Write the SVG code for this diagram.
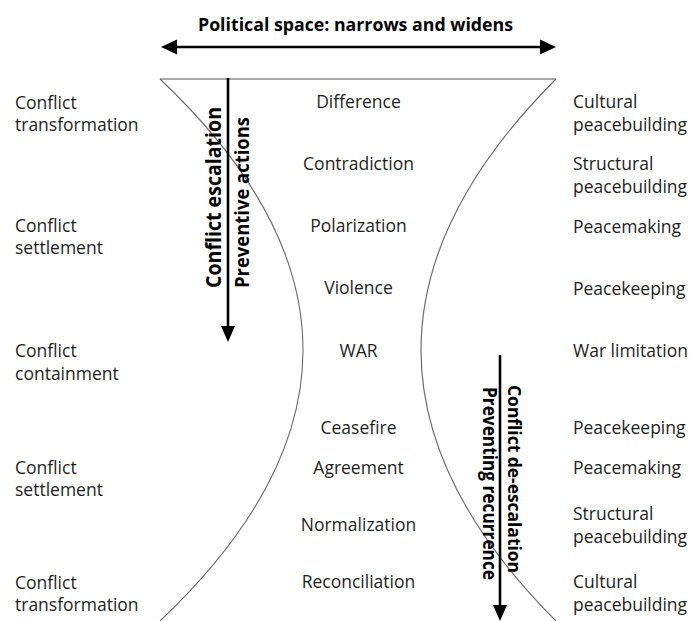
<svg xmlns="http://www.w3.org/2000/svg" width="692" height="621" viewBox="0 0 692 621">
<style>
  .lbl { font-family: "Open Sans", "Noto Sans", "Liberation Sans", sans-serif; font-size: 17.5px; fill: #1e1e1e; }
  .mid { text-anchor: middle; }
  .bold { font-family: "Open Sans", "Noto Sans", "Liberation Sans", sans-serif; font-weight: bold; fill: #000; }
  .curve { fill: none; stroke: #6a6a6a; stroke-width: 1.1; }
  .top { fill: none; stroke: #a8a8a8; stroke-width: 2; }
  .arrow { stroke: #000; stroke-width: 2.6; fill: none; }
  .head { fill: #000; }
</style>
<rect width="692" height="621" fill="#fff"/>

<g id="funnel">
  <line class="top" x1="160" y1="79" x2="556" y2="79"/>
  <path class="curve" d="M160,79 Q446,350 160,621"/>
  <path class="curve" d="M556,79 Q286,350 556,621"/>
</g>

<g id="connectors">
  <g id="political-space-arrow">
    <line class="arrow" x1="174" y1="47" x2="543" y2="47"/>
    <polygon class="head" points="161,47 177,39.5 177,54.5"/>
    <polygon class="head" points="556,47 540,39.5 540,54.5"/>
  </g>
  <g id="escalation-arrow">
    <line class="arrow" x1="228" y1="78" x2="228" y2="330"/>
    <polygon class="head" points="228,342 221,326 235,326"/>
  </g>
  <g id="deescalation-arrow">
    <line class="arrow" x1="500" y1="355" x2="500" y2="608"/>
    <polygon class="head" points="500,621 493,605 507,605"/>
  </g>
</g>

<g id="title">
  <text class="bold" x="355.5" y="31" font-size="17.5" text-anchor="middle" textLength="315" lengthAdjust="spacingAndGlyphs">Political space: narrows and widens</text>
</g>

<g id="escalation-labels">
  <text class="bold" transform="translate(221,197.5) rotate(-90)" font-size="21" text-anchor="middle" textLength="181" lengthAdjust="spacingAndGlyphs">Conflict escalation</text>
  <text class="bold" transform="translate(249,202.5) rotate(-90)" font-size="19" font-weight="600" text-anchor="middle" textLength="171" lengthAdjust="spacingAndGlyphs">Preventive actions</text>
</g>

<g id="deescalation-labels">
  <text class="bold" transform="translate(507.5,479) rotate(90)" font-size="18.5" text-anchor="middle" textLength="188" lengthAdjust="spacingAndGlyphs">Conflict de-escalation</text>
  <text class="bold" transform="translate(482.5,483.5) rotate(90)" font-size="19" font-weight="600" text-anchor="middle" textLength="193" lengthAdjust="spacingAndGlyphs">Preventing recurrence</text>
</g>

<g id="stages">
  <g id="difference"><text class="lbl mid" x="358.5" y="108">Difference</text></g>
  <g id="contradiction"><text class="lbl mid" x="358.5" y="170">Contradiction</text></g>
  <g id="polarization"><text class="lbl mid" x="358.5" y="232">Polarization</text></g>
  <g id="violence"><text class="lbl mid" x="358.5" y="293.5">Violence</text></g>
  <g id="war"><text class="lbl mid" x="358.5" y="357">WAR</text></g>
  <g id="ceasefire"><text class="lbl mid" x="358.5" y="433.5">Ceasefire</text></g>
  <g id="agreement"><text class="lbl mid" x="358.5" y="474">Agreement</text></g>
  <g id="normalization"><text class="lbl mid" x="358.5" y="530.5">Normalization</text></g>
  <g id="reconciliation"><text class="lbl mid" x="358.5" y="588">Reconciliation</text></g>
</g>

<g id="left-labels">
  <g id="l-transformation-1"><text class="lbl" x="15" y="109">Conflict</text><text class="lbl" x="15" y="131">transformation</text></g>
  <g id="l-settlement-1"><text class="lbl" x="15" y="232">Conflict</text><text class="lbl" x="15" y="254">settlement</text></g>
  <g id="l-containment"><text class="lbl" x="15" y="357">Conflict</text><text class="lbl" x="15" y="380">containment</text></g>
  <g id="l-settlement-2"><text class="lbl" x="15" y="473.5">Conflict</text><text class="lbl" x="15" y="496">settlement</text></g>
  <g id="l-transformation-2"><text class="lbl" x="15" y="588.5">Conflict</text><text class="lbl" x="15" y="611">transformation</text></g>
</g>

<g id="right-labels">
  <g id="r-cultural-1"><text class="lbl" x="573" y="108">Cultural</text><text class="lbl" x="573" y="130.5">peacebuilding</text></g>
  <g id="r-structural-1"><text class="lbl" x="573" y="170">Structural</text><text class="lbl" x="573" y="192.5">peacebuilding</text></g>
  <g id="r-peacemaking-1"><text class="lbl" x="573" y="232.5">Peacemaking</text></g>
  <g id="r-peacekeeping-1"><text class="lbl" x="573" y="294.5">Peacekeeping</text></g>
  <g id="r-war-limitation"><text class="lbl" x="573" y="357">War limitation</text></g>
  <g id="r-peacekeeping-2"><text class="lbl" x="573" y="434">Peacekeeping</text></g>
  <g id="r-peacemaking-2"><text class="lbl" x="573" y="474">Peacemaking</text></g>
  <g id="r-structural-2"><text class="lbl" x="573" y="520">Structural</text><text class="lbl" x="573" y="542.5">peacebuilding</text></g>
  <g id="r-cultural-2"><text class="lbl" x="573" y="588">Cultural</text><text class="lbl" x="573" y="610.5">peacebuilding</text></g>
</g>
</svg>
